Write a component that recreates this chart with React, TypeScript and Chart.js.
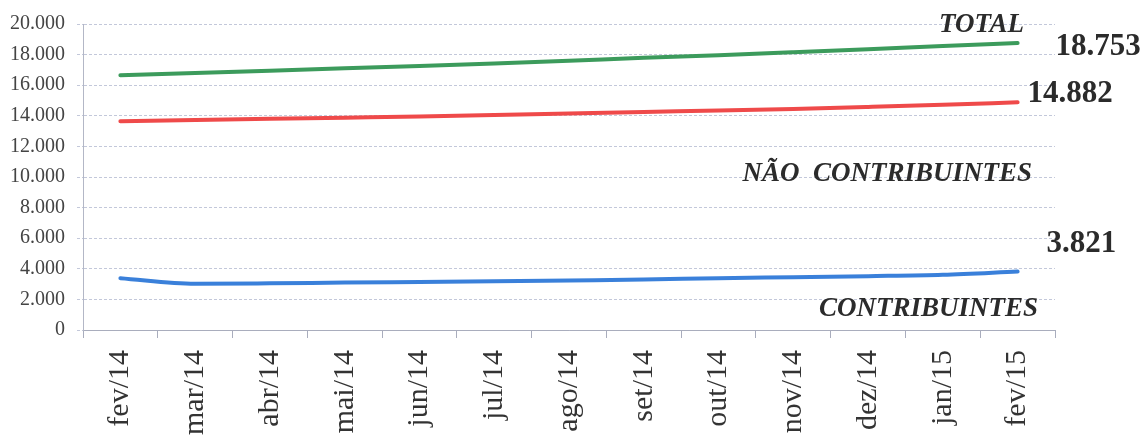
import React, { useEffect, useRef } from "react";
import { Chart, registerables } from "chart.js";

Chart.register(...registerables);

const categories = [
  "fev/14", "mar/14", "abr/14", "mai/14", "jun/14", "jul/14", "ago/14",
  "set/14", "out/14", "nov/14", "dez/14", "jan/15", "fev/15",
];
const totalValues = [16650, 16800, 16950, 17100, 17250, 17420, 17600, 17790, 17960, 18150, 18350, 18560, 18753];
const naoContribValues = [13640, 13720, 13800, 13880, 13960, 14050, 14150, 14250, 14340, 14450, 14580, 14720, 14882];
const contribValues = [3385, 3020, 3050, 3100, 3140, 3180, 3240, 3300, 3385, 3450, 3520, 3610, 3821];
const yTicks = [0, 2000, 4000, 6000, 8000, 10000, 12000, 14000, 16000, 18000, 20000];

const seriesNames = ["TOTAL", "NÃO  CONTRIBUINTES", "CONTRIBUINTES"];

const fmt = (v: number) =>
  Math.round(v).toString().replace(/\B(?=(\d{3})+(?!\d))/g, ".");

const SERIF = "'Liberation Serif', 'Times New Roman', serif";

const annotationPlugin = {
  id: "annotations",
  afterDatasetsDraw(chart: any) {
    const ctx = chart.ctx;
    const y = chart.scales.y;
    const area = chart.chartArea;
    ctx.save();
    ctx.fillStyle = "#2b2b2b";
    // series name labels (bold italic)
    ctx.font = `italic bold 27px ${SERIF}`;
    ctx.textAlign = "right";
    ctx.textBaseline = "middle";
    ctx.fillText(seriesNames[0], area.right - 31, y.getPixelForValue(19930));
    ctx.fillText(seriesNames[1], area.right - 23, y.getPixelForValue(10226));
    ctx.fillText(seriesNames[2], area.right - 17, y.getPixelForValue(1360));

    // last values (bold)
    ctx.font = `bold 31px ${SERIF}`;
    ctx.textAlign = "left";
    const offsets = [
      { dx: 38, dy: 4 },
      { dx: 10, dy: -8 },
      { dx: 29, dy: -28 },
    ];
    chart.data.datasets.forEach((ds: any, i: number) => {
      const meta = chart.getDatasetMeta(i);
      const last = meta.data[meta.data.length - 1];
      const v = ds.data[ds.data.length - 1];
      ctx.fillText(fmt(v), last.x + offsets[i].dx, last.y + offsets[i].dy);
    });
    ctx.restore();
  },
};

export default function App() {
  const ref = useRef<HTMLCanvasElement>(null);

  useEffect(() => {
    if (!ref.current) return;
    Chart.defaults.font.family = SERIF;
    const chart = new Chart(ref.current, {
      type: "line",
      data: {
        labels: categories,
        datasets: [
          { label: seriesNames[0], data: totalValues, borderColor: "#3c9b5c" },
          { label: seriesNames[1], data: naoContribValues, borderColor: "#ef4a4a" },
          { label: seriesNames[2], data: contribValues, borderColor: "#3a80da" },
        ].map((d) => ({
          ...d,
          borderWidth: 4,
          pointRadius: 0,
          fill: false,
          cubicInterpolationMode: "monotone" as const,
          borderCapStyle: "round" as const,
        })),
      },
      options: {
        responsive: false,
        animation: false,
        devicePixelRatio: 1,
        layout: { padding: { top: 21, right: 89, left: 0, bottom: 0 } },
        plugins: {
          legend: { display: false },
          tooltip: { enabled: false },
          title: { display: false },
        },
        scales: {
          x: {
            offset: true,
            grid: {
              offset: true,
              drawOnChartArea: false,
              drawTicks: true,
              tickLength: 8,
              color: "#a9adbd",
              tickColor: "#a9adbd",
            },
            border: { color: "#a9adbd", width: 1 },
            ticks: {
              minRotation: 90,
              maxRotation: 90,
              autoSkip: false,
              padding: 12,
              color: "#333333",
              font: { size: 30, family: SERIF },
            },
            afterFit: (s: any) => {
              s.height = 105;
            },
          },
          y: {
            min: 0,
            max: 20000,
            afterBuildTicks: (s: any) => {
              s.ticks = yTicks.map((v) => ({ value: v }));
            },
            grid: {
              color: "#c3c8da",
              lineWidth: 1,
              tickLength: 6,
              tickColor: "#c3c8da",
              tickBorderDash: [3, 2],
            },
            border: { color: "#b3b7c6", width: 1, dash: [3, 2] },
            ticks: {
              padding: 12,
              color: "#444444",
              font: { size: 20, family: SERIF },
              callback: (v: any) => fmt(Number(v)),
            },
            afterFit: (s: any) => {
              s.width = 83;
            },
          },
        },
      },
      plugins: [annotationPlugin],
    });
    return () => chart.destroy();
  }, []);

  return (
    <div style={{ position: "absolute", left: 0, top: 0, width: 1144, height: 435, background: "#fff" }}>
      <canvas ref={ref} width={1144} height={435} style={{ width: 1144, height: 435 }} />
    </div>
  );
}
